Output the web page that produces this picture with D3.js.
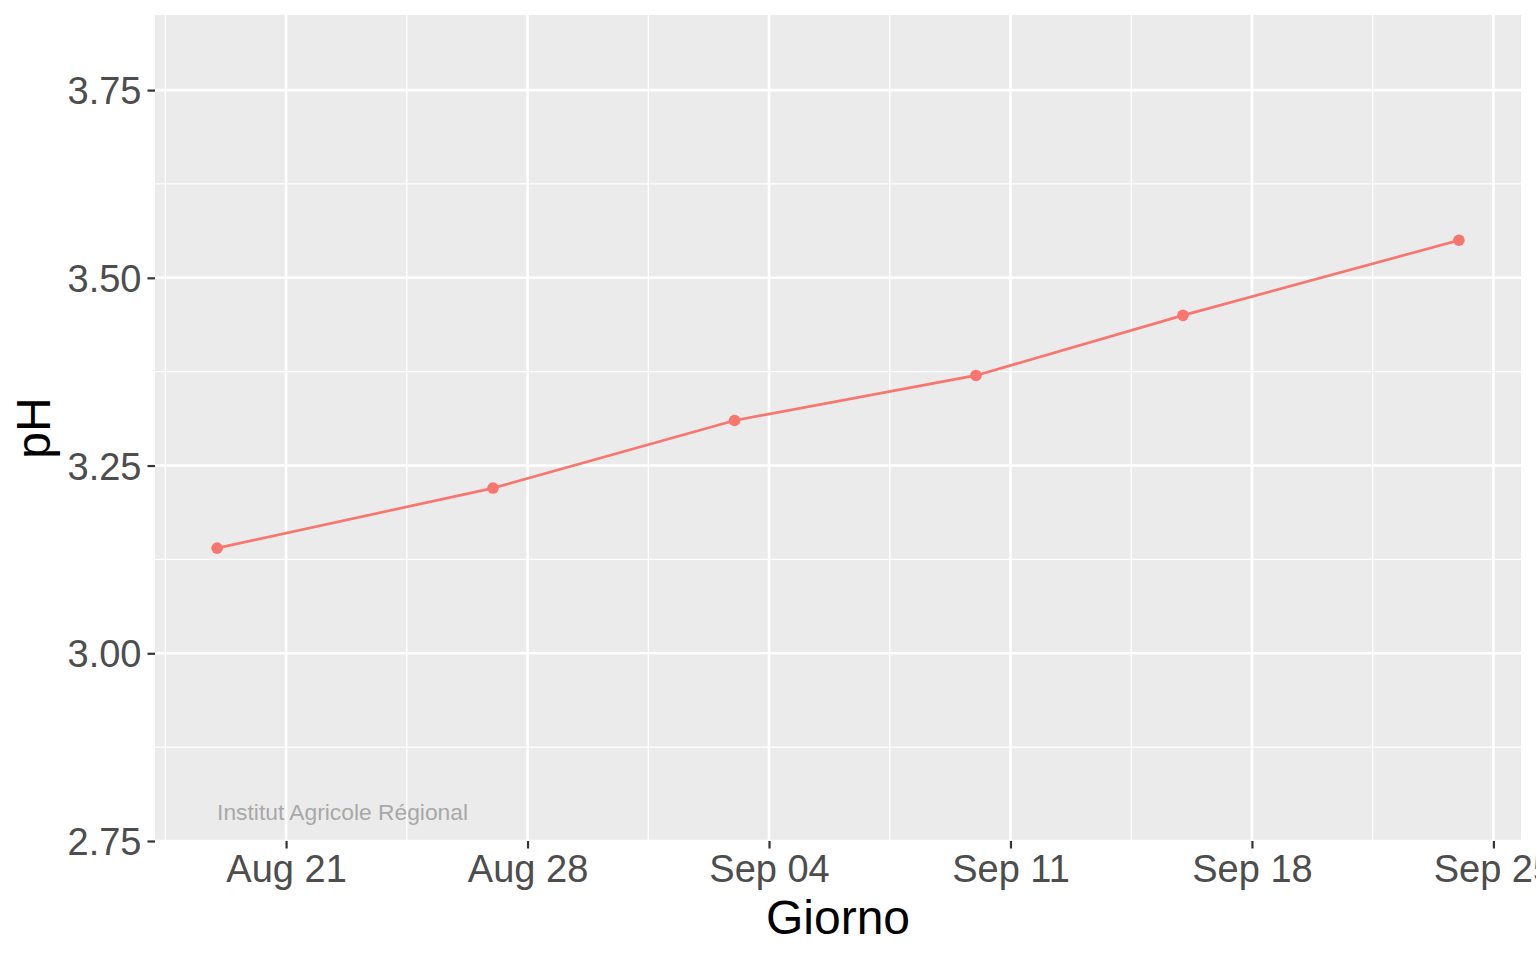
<!DOCTYPE html>
<html>
<head>
<meta charset="utf-8">
<script src="https://cdn.jsdelivr.net/npm/d3@7"></script>
<style>
  body { margin: 0; background: #fff; }
  svg { display: block; font-family: "Liberation Sans", Arial, Helvetica, sans-serif; }
</style>
</head>
<body>
<div id="chart"></div>
<script>
// data
const giorni = ["2023-08-19", "2023-08-27", "2023-09-03", "2023-09-10", "2023-09-16", "2023-09-24"];
const phValues = [3.14, 3.22, 3.31, 3.37, 3.45, 3.55];
const yLimits = [2.8, 3.8];
const yTicks = [2.75, 3.00, 3.25, 3.50, 3.75];
const xTicks = ["2023-08-21", "2023-08-28", "2023-09-04", "2023-09-11", "2023-09-18", "2023-09-25"];
const caption = "Institut Agricole Régional";

const parse = d3.utcParse("%Y-%m-%d");
const data = giorni.map((g, i) => ({ date: parse(g), ph: phValues[i] }));

const width = 1536;
const height = 960;
const margin = { top: 15, right: 15, bottom: 119, left: 155 };

const svg = d3.select("#chart")
  .append("svg")
  .attr("width", width)
  .attr("height", height);

// ggplot-like 5% expansion
const xExt = d3.extent(data, d => d.date);
const pad = (xExt[1] - xExt[0]) * 0.05;
const x = d3.scaleUtc()
  .domain([new Date(+xExt[0] - pad), new Date(+xExt[1] + pad)])
  .range([margin.left, width - margin.right]);

const yPad = (yLimits[1] - yLimits[0]) * 0.05;
const y = d3.scaleLinear()
  .domain([yLimits[0] - yPad, yLimits[1] + yPad])
  .range([height - margin.bottom, margin.top]);

const xMajor = xTicks.map(parse);
const xMinor = [];
for (let i = -1; i < xMajor.length; i++) {
  const a = i < 0 ? +xMajor[0] - 7 * 864e5 : +xMajor[i];
  const m = new Date(a + 3.5 * 864e5);
  if (m >= x.domain()[0] && m <= x.domain()[1]) xMinor.push(m);
}
const yMinor = [];
for (let i = -1; i < yTicks.length; i++) {
  const a = i < 0 ? yTicks[0] - 0.25 : yTicks[i];
  const m = a + 0.125;
  if (m >= y.domain()[0] && m <= y.domain()[1]) yMinor.push(m);
}

// panel
svg.append("rect")
  .attr("x", margin.left)
  .attr("y", margin.top)
  .attr("width", width - margin.left - margin.right)
  .attr("height", height - margin.top - margin.bottom)
  .attr("fill", "#EBEBEB");

const grid = svg.append("g").attr("stroke", "#fff");

grid.selectAll(".ymin").data(yMinor).join("line")
  .attr("x1", margin.left).attr("x2", width - margin.right)
  .attr("y1", d => y(d)).attr("y2", d => y(d))
  .attr("stroke-width", 1.3);

grid.selectAll(".xmin").data(xMinor).join("line")
  .attr("y1", margin.top).attr("y2", height - margin.bottom)
  .attr("x1", d => x(d)).attr("x2", d => x(d))
  .attr("stroke-width", 1.3);

grid.selectAll(".ymaj").data(yTicks).join("line")
  .attr("x1", margin.left).attr("x2", width - margin.right)
  .attr("y1", d => y(d)).attr("y2", d => y(d))
  .attr("stroke-width", 2.6);

grid.selectAll(".xmaj").data(xMajor).join("line")
  .attr("y1", margin.top).attr("y2", height - margin.bottom)
  .attr("x1", d => x(d)).attr("x2", d => x(d))
  .attr("stroke-width", 2.6);

// line + points
const line = d3.line()
  .x(d => x(d.date))
  .y(d => y(d.ph));

svg.append("path")
  .datum(data)
  .attr("fill", "none")
  .attr("stroke", "#F8766D")
  .attr("stroke-width", 2.7)
  .attr("d", line);

svg.append("g")
  .selectAll("circle")
  .data(data)
  .join("circle")
  .attr("cx", d => x(d.date))
  .attr("cy", d => y(d.ph))
  .attr("r", 5.8)
  .attr("fill", "#F8766D");

// caption inside panel
svg.append("text")
  .attr("x", x(data[0].date))
  .attr("y", y(yLimits[0]))
  .attr("dy", "0.74em")
  .attr("fill", "#A8A8A8")
  .attr("font-size", 22.8)
  .text(caption);

// axes
const xAxis = d3.axisBottom(x)
  .tickValues(xMajor)
  .tickFormat(d3.utcFormat("%b %d"))
  .tickSize(7.5)
  .tickPadding(7);

const gx = svg.append("g")
  .attr("transform", `translate(0, ${height - margin.bottom})`)
  .call(xAxis);

const yAxis = d3.axisLeft(y)
  .tickValues(yTicks)
  .tickFormat(d3.format(".2f"))
  .tickSize(7.5)
  .tickPadding(6);

const gy = svg.append("g")
  .attr("transform", `translate(${margin.left}, 0)`)
  .call(yAxis);

[gx, gy].forEach(g => {
  g.select(".domain").remove();
  g.selectAll(".tick line").attr("stroke", "#333333").attr("stroke-width", 2.2);
  g.selectAll(".tick text")
    .attr("fill", "#4D4D4D")
    .attr("font-size", 38)
    .attr("font-family", "'Liberation Sans', Arial, Helvetica, sans-serif");
});
gy.selectAll(".tick text").attr("dy", "0.36em");

// titles
svg.append("text")
  .attr("x", (margin.left + width - margin.right) / 2)
  .attr("y", 934)
  .attr("text-anchor", "middle")
  .attr("font-size", 48)
  .attr("fill", "#000")
  .text("Giorno");

svg.append("text")
  .attr("transform", `translate(50, ${(margin.top + height - margin.bottom) / 2}) rotate(-90)`)
  .attr("text-anchor", "middle")
  .attr("font-size", 48)
  .attr("fill", "#000")
  .text("pH");
</script>
</body>
</html>
